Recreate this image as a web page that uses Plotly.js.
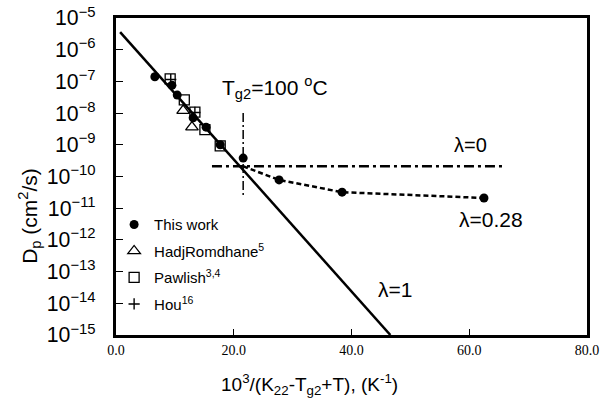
<!DOCTYPE html>
<html>
<head>
<meta charset="utf-8">
<script src="https://cdn.plot.ly/plotly-3.0.1.min.js"></script>
<style>html,body{margin:0;padding:0;background:#fff;}#chart{width:600px;height:404px;}</style>
</head>
<body>
<div id="chart"></div>
<script>
// This work (filled circles)
const thisWorkX = [6.6, 9.5, 10.4, 13.1, 15.3, 17.7, 21.6, 27.7, 38.4, 62.5];
const thisWorkY = [1.4e-7, 7.5e-8, 3.7e-8, 7.1e-9, 3.6e-9, 1.0e-9, 3.8e-10, 7.8e-11, 3.2e-11, 2.1e-11];
// HadjRomdhane (open triangles)
const hadjX = [11.4, 12.9];
const hadjY = [1.2e-8, 3.6e-9];
// Pawlish (open squares)
const pawlishX = [9.2, 11.6, 13.4, 15.1, 17.7];
const pawlishY = [1.2e-7, 2.6e-8, 1.07e-8, 3.0e-9, 9.2e-10];
// Hou (plus)
const houX = [9.3, 13.4];
const houY = [1.15e-7, 1.05e-8];
// lambda = 1 line (solid)
const lam1X = [0.7, 46.6];
const lam1Y = [3.6e-6, 1e-15];
// lambda = 0 line (dash-dot horizontal)
const lam0X = [16.3, 65.8];
const lam0Y = [2.1e-10, 2.1e-10];
// Tg2 vertical marker
const tgX = [21.6, 21.6];
const tgY = [1.0e-8, 2.2e-11];
// lambda = 0.28 curve (dashed)
const lam028X = [21.6, 27.7, 38.4, 62.5];
const lam028Y = [2.1e-10, 7.8e-11, 3.2e-11, 2.1e-11];
// axis ticks
const xTicks = [0, 20, 40, 60, 80];
const yRange = [-15, -5];

const traces = [
  {x: lam1X, y: lam1Y, mode: 'lines', line: {color: '#000', width: 2.5}, showlegend: false, hoverinfo: 'skip'},
  {x: lam0X, y: lam0Y, mode: 'lines', line: {color: '#000', width: 2.5, dash: '10px,4px,3px,4px'}, showlegend: false, hoverinfo: 'skip'},
  {x: tgX, y: tgY, mode: 'lines', line: {color: '#000', width: 1.5, dash: '9px,3px,2px,3px'}, showlegend: false, hoverinfo: 'skip'},
  {x: lam028X, y: lam028Y, mode: 'lines', line: {color: '#000', width: 2.5, dash: '5px,3px'}, showlegend: false, hoverinfo: 'skip'},
  {x: thisWorkX, y: thisWorkY, mode: 'markers', name: 'This work', legendgroup: 'a',
   marker: {symbol: 'circle', size: 9, color: '#000'}},
  {x: hadjX, y: hadjY, mode: 'markers', name: 'HadjRomdhane<sup>5</sup>', legendgroup: 'b',
   marker: {symbol: 'triangle-up-open', size: 11, color: '#000', line: {width: 1.3}}},
  {x: pawlishX, y: pawlishY, mode: 'markers', name: 'Pawlish<sup>3,4</sup>', legendgroup: 'c',
   marker: {symbol: 'square-open', size: 10, color: '#000', line: {width: 1.3}}},
  {x: houX, y: houY, mode: 'markers', name: 'Hou<sup>16</sup>', legendgroup: 'd',
   marker: {symbol: 'cross-thin-open', size: 8, color: '#000', line: {width: 1.4, color: '#000'}}}
];

const layout = {
  width: 600, height: 404,
  margin: {l: 116, r: 13, t: 18, b: 69},
  paper_bgcolor: '#fff', plot_bgcolor: '#fff',
  font: {family: 'Arial, Liberation Sans, sans-serif', color: '#000'},
  showlegend: true,
  legend: {x: -0.004, y: 0.40, xanchor: 'left', yanchor: 'top', bgcolor: 'rgba(0,0,0,0)',
           traceorder: 'grouped', tracegroupgap: 4, font: {size: 15, family: 'Arial, Liberation Sans, sans-serif'}},
  xaxis: {
    range: [0, 80], tickvals: xTicks, tickformat: '.1f',
    ticks: 'inside', ticklen: 6, tickcolor: '#000',
    showline: true, linewidth: 3, linecolor: '#000', mirror: true,
    showgrid: false, zeroline: false, ticklabeloverflow: 'allow',
    tickfont: {family: 'Liberation Serif, Times New Roman, serif', size: 14}
  },
  yaxis: {
    type: 'log', range: yRange, dtick: 1, exponentformat: 'power',
    ticks: 'inside', ticklen: 7, tickcolor: '#000',
    showline: true, linewidth: 3, linecolor: '#000', mirror: true,
    showgrid: false, zeroline: false, minor: {ticks: ''},
    tickfont: {size: 17}, ticklabelstandoff: 14
  },
  annotations: [
    {text: '10<sup>3</sup>/(K<sub>22</sub>-T<sub>g2</sub>+T), (K<sup>-1</sup>)', xref: 'paper', yref: 'paper',
     x: (309 - 116) / 471, y: (335 - 385) / 317, xanchor: 'center', yanchor: 'middle', showarrow: false, font: {size: 19}},
    {text: 'D<sub>p</sub> (cm<sup>2</sup>/s)', xref: 'paper', yref: 'paper', textangle: -90,
     x: -0.185, y: (335 - 216) / 317, xanchor: 'center', yanchor: 'middle', showarrow: false, font: {size: 21}},
    {text: 'T<sub>g2</sub>=100 <sup>o</sup>C', xref: 'paper', yref: 'paper',
     x: (220 - 116) / 471, y: (335 - 88) / 317, xanchor: 'left', yanchor: 'middle', showarrow: false, font: {size: 21}},
    {text: 'λ=0', xref: 'paper', yref: 'paper',
     x: (470 - 116) / 471, y: (335 - 145) / 317, xanchor: 'center', yanchor: 'middle', showarrow: false, font: {size: 20}},
    {text: 'λ=0.28', xref: 'paper', yref: 'paper',
     x: (491 - 116) / 471, y: (335 - 219) / 317, xanchor: 'center', yanchor: 'middle', showarrow: false, font: {size: 21}},
    {text: 'λ=1', xref: 'paper', yref: 'paper',
     x: (395 - 116) / 471, y: (335 - 289) / 317, xanchor: 'center', yanchor: 'middle', showarrow: false, font: {size: 21}}
  ]
};

Plotly.newPlot('chart', traces, layout, {staticPlot: true, displayModeBar: false});
</script>
</body>
</html>
